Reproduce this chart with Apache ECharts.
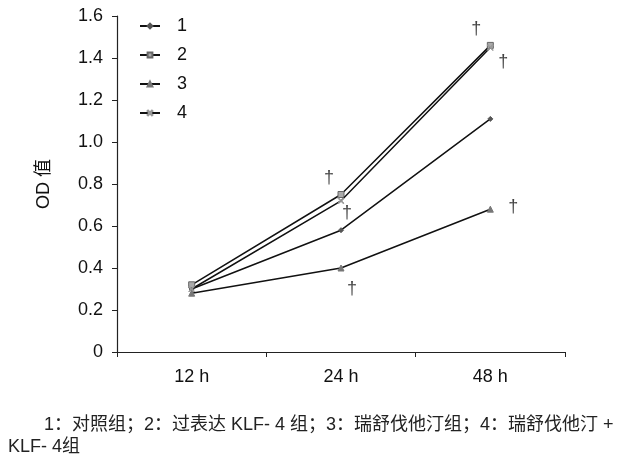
<!DOCTYPE html>
<html><head><meta charset="utf-8">
<script src="https://cdn.jsdelivr.net/npm/echarts@6/dist/echarts.min.js"></script>
<style>html,body{margin:0;padding:0;background:#fff}#c{width:617px;height:456px}</style>
</head><body><div id="c"></div>
<script>
const categories = ['12 h', '24 h', '48 h'];
const seriesNames = ['1', '2', '3', '4'];
const s1 = [0.30, 0.58, 1.11];
const s2 = [0.32, 0.75, 1.46];
const s3 = [0.28, 0.40, 0.68];
const s4 = [0.30, 0.72, 1.45];
const yTicks = [0, 0.2, 0.4, 0.6, 0.8, 1.0, 1.2, 1.4, 1.6];
// significance daggers: [category, value, horizontal nudge]
const daggers = [['24 h', 0.83, -12], ['24 h', 0.66, 6], ['24 h', 0.30, 11], ['48 h', 1.54, -14], ['48 h', 1.38, 13], ['48 h', 0.69, 23]];
const captionLine1 = '1：对照组；2：过表达 KLF- 4 组；3：瑞舒伐他汀组；4：瑞舒伐他汀 +';
const captionLine2 = 'KLF- 4组';

const FONT = '"Liberation Sans", Arial, "Noto Sans CJK SC", sans-serif';
const crossPath = 'path://M0,1L1,0L5,4L9,0L10,1L6,5L10,9L9,10L5,6L1,10L0,9L4,5Z';
const markers = [
  {symbol: 'diamond', size: 5, color: '#555'},
  {symbol: 'rect', size: 6, color: '#aaa', border: '#666'},
  {symbol: 'triangle', size: 6, color: '#777'},
  {symbol: crossPath, size: 6, color: '#999'}
];
const allData = [s1, s2, s3, s4];
const series = allData.map((d, i) => ({
  name: seriesNames[i], type: 'line', data: d,
  symbol: markers[i].symbol, symbolSize: markers[i].size,
  lineStyle: {color: '#111', width: 1.5},
  itemStyle: {color: markers[i].color, borderColor: markers[i].border || markers[i].color, borderWidth: 1},
  z: 3 + i
}));
series.push({
  type: 'scatter', name: 'dagger', data: daggers.map(d => [d[0], d[1]]),
  symbolSize: 0, silent: true,
  label: {show: true, formatter: '†', position: 'inside', color: '#111', fontSize: 18, fontFamily: FONT},
  labelLayout: (p) => ({dx: daggers[p.dataIndex][2]}),
  z: 10
});

const chart = echarts.init(document.getElementById('c'));
chart.setOption({
  animation: false,
  backgroundColor: '#fff',
  textStyle: {fontFamily: FONT},
  grid: {left: 117, right: 52, top: 16, bottom: 104, containLabel: false},
  legend: {
    data: seriesNames, orient: 'vertical', left: 134, top: 12, itemGap: 11,
    itemWidth: 20, itemHeight: 6,
    textStyle: {fontSize: 18, color: '#111', fontFamily: FONT, padding: [12, 0, 0, 12]}
  },
  xAxis: {
    type: 'category', data: categories, boundaryGap: true,
    axisLine: {lineStyle: {color: '#222', width: 1.2}},
    axisTick: {show: true, length: 5, lineStyle: {color: '#222'}},
    axisLabel: {fontSize: 18, color: '#111', margin: 16, fontFamily: FONT}
  },
  yAxis: {
    type: 'value', min: 0, max: 1.6, interval: 0.2,
    name: 'OD 值', nameLocation: 'middle', nameGap: 64, nameRotate: 90,
    nameTextStyle: {fontSize: 18, color: '#111', fontFamily: FONT},
    splitLine: {show: false},
    axisLine: {show: true, lineStyle: {color: '#222', width: 1.2}},
    axisTick: {show: true, length: 5, lineStyle: {color: '#222'}},
    axisLabel: {fontSize: 18, color: '#111', margin: 14, fontFamily: FONT,
      formatter: v => v === 0 ? '0' : v.toFixed(1)}
  },
  graphic: [
    {type: 'text', left: 44, top: 416, style: {text: captionLine1, fill: '#222', font: '18px ' + FONT}},
    {type: 'text', left: 8, top: 438, style: {text: captionLine2, fill: '#222', font: '18px ' + FONT}}
  ],
  series: series
});
</script></body></html>
